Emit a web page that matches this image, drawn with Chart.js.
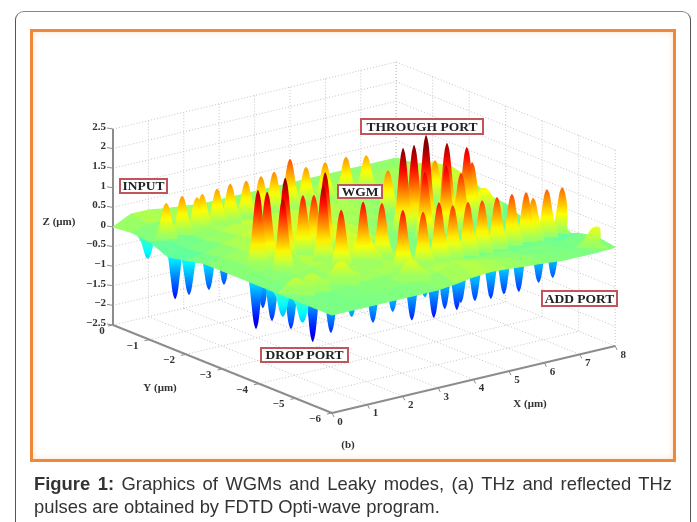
<!DOCTYPE html>
<html>
<head>
<meta charset="utf-8">
<title>Figure 1</title>
<script src="https://cdn.jsdelivr.net/npm/chart.js@4/dist/chart.umd.min.js"></script>
<style>
  html, body { margin: 0; padding: 0; background: #fff; overflow: hidden; }
  #page { position: relative; width: 697px; height: 522px; overflow: hidden; }
  #card { position: absolute; left: 15px; top: 11px; width: 676px; height: 560px; box-sizing: border-box;
          border: 1.5px solid #555; border-top-color: #888; border-radius: 9px; }
  #frame { position: absolute; left: 30px; top: 29px; width: 646px; height: 433px; box-sizing: border-box;
           border: 3px solid #f0883c; box-shadow: inset 0 0 6px #fde3c8; }
  #plot { position: absolute; left: 0; top: 0; filter: blur(0.7px); }
  .tag { position: absolute; box-sizing: border-box; border: 2px solid #c0565c; background: #fff; color: #222;
         font: bold 13.5px "Liberation Serif", serif; text-align: center; white-space: nowrap; filter: blur(0.3px); }
  #caption { position: absolute; left: 34px; top: 472px; width: 638px; color: #333;
             font: 18.4px/23px "Liberation Sans", sans-serif; white-space: nowrap; }
  #caption div:first-child { text-align: justify; text-align-last: justify; }
</style>
</head>
<body>
<div id="page">
  <div id="card"></div>
  <div id="frame"></div>
  <canvas id="plot" width="697" height="522"></canvas>
  <div class="tag" style="left:119px;top:178px;width:49px;height:16px;line-height:12px">INPUT</div>
  <div class="tag" style="left:360px;top:118px;width:124px;height:17px;line-height:13px">THROUGH PORT</div>
  <div class="tag" style="left:337px;top:184px;width:46px;height:15px;line-height:11px">WGM</div>
  <div class="tag" style="left:260px;top:347px;width:89px;height:16px;line-height:12px">DROP PORT</div>
  <div class="tag" style="left:541px;top:290px;width:77px;height:17px;line-height:13px">ADD PORT</div>
  <div id="caption"><div><b>Figure 1:</b> Graphics of WGMs and Leaky modes, (a) THz and reflected THz</div><div>pulses are obtained by FDTD Opti-wave program.</div></div>
</div>
<script>
const xTicks = [0, 1, 2, 3, 4, 5, 6, 7, 8];
const yTicks = [0, -1, -2, -3, -4, -5, -6];
const zTicks = [-2.5, -2, -1.5, -1, -0.5, 0, 0.5, 1, 1.5, 2, 2.5];
const yTickLabels = ['0', '−1', '−2', '−3', '−4', '−5', '−6'];
const zTickLabels = ['−2.5', '−2', '−1.5', '−1', '−0.5', '0', '0.5', '1', '1.5', '2', '2.5'];

// crests
const peakX = [0.57, 1.02, 1.44, 1.59, 2.01, 2.38, 2.83, 3.25, 3.62, 4.07, 4.52, 5.06, 5.65, 6.22,
  5.7, 7.03,
  1.0, 1.26, 1.77, 1.19, 2.27, 2.58, 2.9, 2.33,
  5.1, 5.41, 5.75, 6.34, 6.9, 7.05, 5.2, 5.8, 6.22,
  2.32, 2.94, 3.47,
  3.34, 3.91, 4.36, 4.75, 5.18, 5.58, 6.0, 6.42, 6.82, 7.02, 7.41, 7.84];
const peakY = [-0.9, -0.9, -0.9, -0.9, -0.9, -0.9, -0.9, -0.9, -0.9, -0.9, -0.9, -0.9, -0.9, -0.9,
  -2, -2,
  -3, -3, -3, -3.5, -3, -3, -3, -3.5,
  -3, -3, -3, -3, -3, -3, -3.5, -3.5, -3.5,
  -4, -4, -4,
  -4.7, -4.7, -4.7, -4.7, -4.7, -4.7, -4.7, -4.7, -4.7, -4.7, -4.7, -4.7];
const peakZ = [0.83, 0.91, 0.79, 0.84, 0.88, 0.93, 0.91, 0.94, 0.97, 1.2, 0.9, 0.91, 0.92, 0.84,
  0.98, 0.95,
  1.85, 1.75, 2.0, 1.79, 1.45, 1.39, 1.9, 1.88,
  2.05, 2.06, 2.24, 1.91, 1.69, 1.27, 1.6, 1.65, 1.36,
  1.44, 1.51, 1.37,
  1.48, 1.31, 1.46, 1.30, 1.29, 1.25, 1.24, 1.23, 1.19, 1.0, 1.14, 1.10];

// the wider, low humps
const bumpX = [7.36, 7.85, 0.5, 0.93, 1.77, 3.13, 2.94];
const bumpY = [-3, -5.6, -4.5, -4.5, -4.5, -5.1, -4];
const bumpZ = [0.55, 0.43, 0.28, 0.3, 0.42, 0.4, 0.8];

// dips hanging below the sheet
const troughX = [0.35, 0.5, 0.5, 1, 1.5, 1, 1.3, 1, 0.35, 1, 0.35, 1.5, 1.5,
  1.9, 2.5, 3.06, 3.6, 3.97, 4.22, 4.53, 4.87, 4.98, 5.38, 5.83, 6.2, 6.62, 7.18, 7.58];
const troughY = [-0.62, -1.22, -1.6, -1.66, -1.59, -2.95, -2.85, -3.39, -4.32, -3.91, -4.86, -4.02, -4.52,
  -4.7, -4.7, -4.7, -4.7, -4.7, -4.7, -4.7, -4.7, -4.7, -4.7, -4.7, -4.7, -4.7, -4.7, -4.7];
const troughZ = [-0.65, -1.49, -1.24, -1.2, -1.2, -1.71, -1.28, -1.34, -0.75, -1.35, -0.7, -1.75, -1.33,
  -0.94, -1.22, -1.06, -1.39, -0.88, -1.46, -1.3, -1.4, -1.24, -1.28, -1.32, -1.28, -1.31, -1.2, -1.16];

// sheet heights, rows y = 0 to -6 by 0.5, columns x = 0 to 8 by 0.5
const sheetX = [0, 0.5, 1, 1.5, 2, 2.5, 3, 3.5, 4, 4.5, 5, 5.5, 6, 6.5, 7, 7.5, 8];
const sheetY = [0, -0.5, -1, -1.5, -2, -2.5, -3, -3.5, -4, -4.5, -5, -5.5, -6];
const sheetZ = [
  [0, 0.22, 0.22, 0.15, 0.1, 0.05, 0.05, 0.05, 0.05, 0.05, 0.05, 0.05, 0.05, 0.05, 0.05, 0.05, 0.05],
  [0.05, 0.15, 0.15, 0.12, 0.12, 0.12, 0.12, 0.12, 0.12, 0.12, 0.12, 0.12, 0.1, 0.1, 0.1, 0.1, 0.1],
  [0, -0.1, 0.05, 0.12, 0.2, 0.2, 0.2, 0.2, 0.2, 0.2, 0.2, 0.2, 0.15, 0.15, 0.15, 0.25, 0.3],
  [-0.2, -0.1, 0, 0.12, 0.25, 0.22, 0.25, 0.25, 0.25, 0.25, 0.2, 0.1, 0.05, 0.1, 0.15, 0.25, 0.4],
  [-0.1, -0.05, 0.1, 0.2, 0.3, 0.3, 0.3, 0.25, 0.2, 0.15, 0.1, 0.05, 0, 0.05, 0.15, 0.25, 0.3],
  [0, 0.05, 0.15, 0.25, 0.3, 0.35, 0.35, 0.3, 0.2, 0.15, 0.1, 0, 0, 0.05, 0.15, 0.1, 0.05],
  [0, 0.1, 0.15, 0.25, 0.35, 0.4, 0.4, 0.3, 0.2, -0.05, 0.1, -0.1, 0.05, 0.15, 0.1, 0.05, 0],
  [0, 0.05, 0.1, 0.2, 0.3, 0.35, 0.4, 0.25, 0.1, -0.1, 0.1, -0.2, 0, 0.1, 0, -0.1, -0.2],
  [0, 0, 0.05, 0.15, 0.2, 0.3, 0.3, 0.2, -0.1, 0.1, -0.1, 0.1, -0.2, 0, -0.1, -0.2, -0.2],
  [0, 0, 0.05, 0.1, 0.15, 0.2, 0.25, 0.15, 0.1, 0, -0.05, -0.05, -0.05, -0.1, -0.1, -0.1, -0.2],
  [0, 0, 0, 0.05, 0.05, 0.1, 0.12, 0.2, 0.15, 0.05, 0, 0, -0.02, -0.05, 0, -0.1, 0],
  [0, -0.05, -0.05, 0, 0, 0.03, 0.05, 0.15, 0.28, 0.25, 0.15, 0.1, 0.05, 0, 0, -0.05, 0.1],
  [0, 0, 0, 0, 0, 0, 0, 0.05, 0.12, 0.15, 0.12, 0.08, 0.05, 0, 0, 0, 0.02]
];

// view of the 3D box, onto a 697x522 plane
const project = (x, y, z) => ({
  x: 113 + 35.4 * x - 36.5 * y,
  y: 227 - 8.375 * x - 14.67 * y - 39.2 * z
});

const clamp = (v) => Math.max(0, Math.min(1, v));
const jet = (z) => {
  const t = clamp((z + 2) / 4) * 4;
  const r = clamp(1.5 - Math.abs(t - 3));
  const g = clamp(1.5 - Math.abs(t - 2));
  const b = clamp(1.5 - Math.abs(t - 1));
  return `rgb(${Math.round(r * 255)},${Math.round(g * 255)},${Math.round(b * 255)})`;
};

const datasets = [];

function addLine(points, color, width, dash) {
  datasets.push({
    data: points,
    showLine: true,
    borderColor: color,
    borderWidth: width,
    borderDash: dash || [],
    pointRadius: 0,
    fill: false
  });
}

function addGrid() {
  const zMin = zTicks[0], zMax = zTicks[zTicks.length - 1];
  const yEnd = yTicks[yTicks.length - 1], xEnd = xTicks[xTicks.length - 1];
  const dots = [1, 2];
  const grey = '#c4c4c4';
  xTicks.slice(1).forEach(x => {
    addLine([project(x, 0, zMin), project(x, 0, zMax)], grey, 1, dots);
    if (x < xEnd) addLine([project(x, 0, zMin), project(x, yEnd, zMin)], grey, 1, dots);
  });
  yTicks.forEach(y => {
    addLine([project(xEnd, y, zMin), project(xEnd, y, zMax)], grey, 1, dots);
    if (y !== 0 && y !== yEnd) addLine([project(0, y, zMin), project(xEnd, y, zMin)], grey, 1, dots);
  });
  zTicks.forEach(z => {
    addLine([project(0, 0, z), project(xEnd, 0, z)], grey, 1, dots);
    addLine([project(xEnd, 0, z), project(xEnd, yEnd, z)], grey, 1, dots);
  });
  // solid axes and their ticks
  const axis = '#8c8c8c';
  addLine([project(0, 0, zMin), project(0, 0, zMax)], axis, 2);
  addLine([project(0, 0, zMin), project(0, yEnd, zMin)], axis, 2);
  addLine([project(0, yEnd, zMin), project(xEnd, yEnd, zMin)], axis, 2);
  zTicks.forEach(z => {
    const p = project(0, 0, z);
    addLine([p, { x: p.x - 6, y: p.y - 1 }], axis, 1);
  });
  yTicks.forEach(y => {
    const p = project(0, y, zMin);
    addLine([p, { x: p.x - 5, y: p.y + 1 }], axis, 1);
  });
  xTicks.forEach(x => {
    const p = project(x, yEnd, zMin);
    addLine([p, { x: p.x + 2, y: p.y + 4 }], axis, 1);
  });
}

// outline of one crest or dip, as share of width and of height
const spikeOutline = [
  [-0.46, 0], [-0.3, 0.28], [-0.2, 0.6], [-0.1, 0.9], [0, 1], [0.1, 0.9], [0.2, 0.6], [0.3, 0.28], [0.46, 0]
];

function addSpike(x, y, z, width) {
  const edge = (v, lo, hi) => Math.max(lo, Math.min(hi, v));
  const points = spikeOutline.map(([du, h]) => project(edge(x + du * width, 0, 8), y, z * h));
  // crests run on toward the viewer as a skirt
  if (z > 0) points.push(project(x, edge(y - 0.45 * width, -6, 0), 0.02));
  const base = z > 0 ? 0.12 : -0.15;
  datasets.push({
    data: points,
    showLine: true,
    tension: 0.3,
    borderWidth: 0,
    pointRadius: 0,
    fill: 'shape',
    backgroundColor: (c) => {
      const sy = c.chart.scales.y;
      const y0 = sy.getPixelForValue(project(x, y, 0).y), y1 = sy.getPixelForValue(project(x, y, z).y);
      if (!isFinite(y0) || !isFinite(y1)) return jet(z);
      const g = c.chart.ctx.createLinearGradient(0, y0, 0, y1);
      for (let i = 0; i <= 8; i++) g.addColorStop(i / 8, jet(base + (z - base) * i / 8));
      return g;
    }
  });
}

function addSheet() {
  sheetY.slice(0, -1).forEach((y, r) => {
    for (let c = sheetX.length - 2; c >= 0; c--) {
      const a = sheetZ[r][c], b = sheetZ[r][c + 1], d = sheetZ[r + 1][c + 1], e = sheetZ[r + 1][c];
      const x0 = sheetX[c], x1 = sheetX[c + 1], y1 = sheetY[r + 1];
      const color = jet((a + b + d + e) / 4);
      datasets.push({
        data: [project(x0, y, a), project(x1, y, b), project(x1, y1, d), project(x0, y1, e), project(x0, y, a)],
        showLine: true,
        borderColor: color,
        borderWidth: 1,
        backgroundColor: color,
        pointRadius: 0,
        fill: 'shape'
      });
    }
  });
}

addGrid();
troughX.map((x, i) => [x, troughY[i], troughZ[i]])
  .sort((a, b) => (-a[1] - a[0]) - (-b[1] - b[0]))
  .forEach(([x, y, z]) => addSpike(x, y, z, 0.66));
addSheet();
const crests = [
  ...bumpX.map((x, i) => [x, bumpY[i], bumpZ[i], 1.2]),
  ...peakX.map((x, i) => [x, peakY[i], peakZ[i], 0.68])
];
crests.sort((a, b) => (-a[1] - a[0]) - (-b[1] - b[0]))
  .forEach(([x, y, z, w]) => addSpike(x, y, z, w));

// tick and axis labels, placed through the same scales
const tickLabels = {
  id: 'tickLabels',
  afterDraw(chart) {
    const { ctx, scales } = chart;
    const zMin = zTicks[0];
    const put = (text, p, dx, dy, align) => {
      ctx.textAlign = align || 'center';
      ctx.fillText(text, scales.x.getPixelForValue(p.x) + dx, scales.y.getPixelForValue(p.y) + dy);
    };
    ctx.save();
    ctx.fillStyle = '#333';
    ctx.textBaseline = 'middle';
    ctx.font = 'bold 11px "Liberation Serif", serif';
    zTicks.forEach((z, i) => put(zTickLabels[i], project(0, 0, z), -7, -2, 'right'));
    yTicks.forEach((y, i) => {
      if (i === 0) put(yTickLabels[i], project(0, y, zMin), -11, 6);
      else put(yTickLabels[i], project(0, y, zMin), -17, 6);
    });
    xTicks.forEach(x => put(String(x), project(x, yTicks[yTicks.length - 1], zMin), 8, 9));
    ctx.textAlign = 'center';
    ctx.fillText('Z (μm)', 59, 222);
    ctx.fillText('Y (μm)', 160, 388);
    ctx.fillText('X (μm)', 530, 404);
    ctx.fillText('(b)', 348, 445);
    ctx.restore();
  }
};

new Chart(document.getElementById('plot'), {
  type: 'scatter',
  data: { datasets: datasets.reverse() },
  options: {
    responsive: false,
    animation: false,
    events: [],
    layout: { padding: 0 },
    scales: {
      x: { type: 'linear', min: 0, max: 697, display: false },
      y: { type: 'linear', min: 0, max: 522, reverse: true, display: false }
    },
    plugins: { legend: { display: false }, tooltip: { enabled: false } }
  },
  plugins: [tickLabels]
});
</script>
</body>
</html>
